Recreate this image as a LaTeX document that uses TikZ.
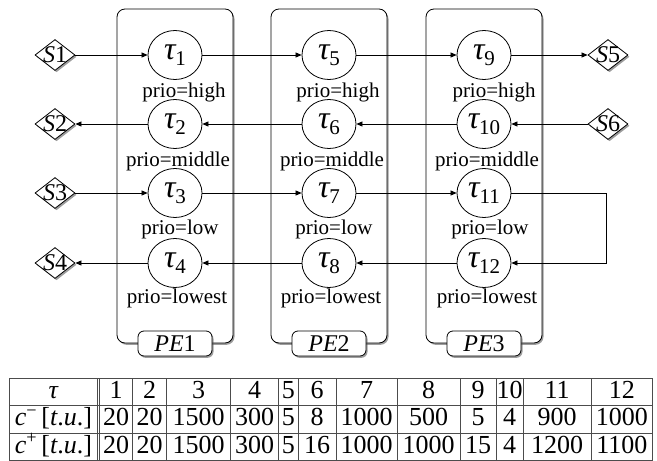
\documentclass[tikz,border=0pt]{standalone}
\usepackage{fontspec}
\setmainfont{Liberation Serif}
\usetikzlibrary{shapes.geometric,shadows,arrows.meta}

\newcommand\tsk[1]{{\fontsize{32}{32}\selectfont\itshape τ}\raisebox{-6pt}{\fontsize{21}{21}\selectfont #1}}
\newcommand\sg[1]{{\itshape S}#1}
\newcommand\pel[1]{{\itshape PE}#1}

\tikzset{
  shad/.style={drop shadow={shadow xshift=1.5pt, shadow yshift=-1.8pt, fill=black!70, opacity=0.55}},
  pebox/.style={draw, line width=0.8pt, rounded corners=8pt, fill=white, minimum width=116pt, minimum height=334pt, inner sep=0pt, shad},
  pelab/.style={draw, line width=0.8pt, rounded corners=6pt, fill=white, minimum width=74pt, minimum height=25pt, inner sep=0pt, font=\fontsize{24}{24}\selectfont, shad},
  task/.style={ellipse, draw, line width=0.8pt, fill=white, minimum width=54pt, minimum height=49pt, inner sep=0pt},
  prio/.style={anchor=base, inner sep=0pt, font=\fontsize{21}{21}\selectfont},
  sdiam/.style={diamond, draw, line width=0.8pt, fill=white, minimum width=40pt, minimum height=31pt, inner sep=0pt, shad},
  stxt/.style={inner sep=0pt, font=\fontsize{24}{24}\selectfont},
  conn/.style={draw, line width=0.7pt, -{Triangle[length=6pt,width=5pt]}},
  grid/.style={draw=black!70, line width=0.7pt},
  cell/.style={anchor=base, inner sep=0pt, font=\fontsize{26}{26}\selectfont},
}

\begin{document}
\begin{tikzpicture}[x=1pt,y=-1pt]
\useasboundingbox (0,0) rectangle (657,461);

% processing elements
\node[pebox] (pe1) at (175,176) {};
\node[pebox] (pe2) at (329,176) {};
\node[pebox] (pe3) at (484,176) {};
\node[pelab] (l1) at (175,343.5) {\pel{1}};
\node[pelab] (l2) at (329,343.5) {\pel{2}};
\node[pelab] (l3) at (484,343.5) {\pel{3}};

% sources / sinks
\node[sdiam] (s1) at (55,55) {};
\node[stxt] (s1t) at (s1) {\sg{1}};
\node[sdiam] (s2) at (55,124) {};
\node[stxt] (s2t) at (s2) {\sg{2}};
\node[sdiam] (s3) at (55,193) {};
\node[stxt] (s3t) at (s3) {\sg{3}};
\node[sdiam] (s4) at (55,263) {};
\node[stxt] (s4t) at (s4) {\sg{4}};
\node[sdiam] (s5) at (608,55) {};
\node[stxt] (s5t) at (s5) {\sg{5}};
\node[sdiam] (s6) at (608,124) {};
\node[stxt] (s6t) at (s6) {\sg{6}};

% tasks
\node[task] (t1) at (175,55) {\tsk{1}};
\node[task] (t2) at (175,124) {\tsk{2}};
\node[task] (t3) at (175,193) {\tsk{3}};
\node[task] (t4) at (175,263) {\tsk{4}};
\node[task] (t5) at (329,55) {\tsk{5}};
\node[task] (t6) at (329,124) {\tsk{6}};
\node[task] (t7) at (329,193) {\tsk{7}};
\node[task] (t8) at (329,263) {\tsk{8}};
\node[task] (t9) at (484,55) {\tsk{9}};
\node[task] (t10) at (484,124) {\tsk{10}};
\node[task] (t11) at (484,193) {\tsk{11}};
\node[task] (t12) at (484,263) {\tsk{12}};

% priorities
\node[prio] (p1) at (184,97) {prio=high};
\node[prio] (p2) at (178,166) {prio=middle};
\node[prio] (p3) at (180,234) {prio=low};
\node[prio] (p4) at (177,303) {prio=lowest};
\node[prio] (p5) at (338,97) {prio=high};
\node[prio] (p6) at (332,166) {prio=middle};
\node[prio] (p7) at (334,234) {prio=low};
\node[prio] (p8) at (331,303) {prio=lowest};
\node[prio] (p9) at (494,97) {prio=high};
\node[prio] (p10) at (487,166) {prio=middle};
\node[prio] (p11) at (490,234) {prio=low};
\node[prio] (p12) at (487,303) {prio=lowest};

% connectors
\draw[conn] (s1) -- (t1);
\draw[conn] (t1) -- (t5);
\draw[conn] (t5) -- (t9);
\draw[conn] (t9) -- (s5);
\draw[conn] (s6) -- (t10);
\draw[conn] (t10) -- (t6);
\draw[conn] (t6) -- (t2);
\draw[conn] (t2) -- (s2);
\draw[conn] (s3) -- (t3);
\draw[conn] (t3) -- (t7);
\draw[conn] (t7) -- (t11);
\coordinate (bend) at (606,193);
\draw[conn] (t11.east) -- (bend) |- (t12.east);
\draw[conn] (t12) -- (t8);
\draw[conn] (t8) -- (t4);
\draw[conn] (t4) -- (s4);

% table
\draw[grid] (9.5,378) rectangle (652,460.5);
\draw[grid] (9.5,405.5) -- (652,405.5);
\draw[grid] (9.5,433) -- (652,433);
\foreach \xx in {97.3,99.3,132.7,166.7,230.7,278.5,298.3,336,397,460,496,523,591.5}
  \draw[grid] (\xx,378) -- (\xx,460.5);

\node[cell] (hh) at (53.4,398) {\itshape τ};
\node[cell] (hm) at (53.4,425.5) {{\itshape c}\textsuperscript{−}\,[{\itshape t}.{\itshape u}.]};
\node[cell] (hp) at (53.4,453) {{\itshape c}\textsuperscript{+}\,[{\itshape t}.{\itshape u}.]};

\foreach \xx/\a/\b/\c [count=\i] in {116/1/20/20, 149.7/2/20/20, 198.7/3/1500/1500, 254.6/4/300/300, 288.4/5/5/5, 317.2/6/8/16, 366.5/7/1000/1000, 428.5/8/500/1000, 478/9/5/15, 509.5/10/4/4, 557.2/11/900/1200, 621.8/12/1000/1100} {
  \node[cell] (ch\i) at (\xx,398) {\a};
  \node[cell] (cm\i) at (\xx,425.5) {\b};
  \node[cell] (cp\i) at (\xx,453) {\c};
}
\end{tikzpicture}
\end{document}
